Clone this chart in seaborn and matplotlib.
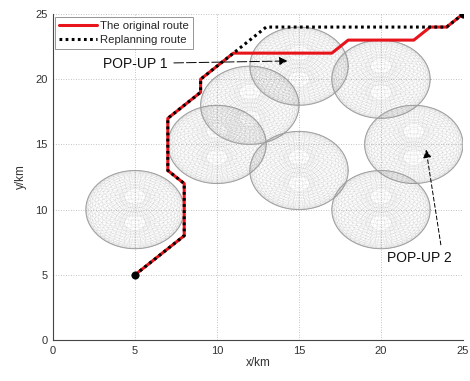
import numpy as np
import pandas as pd
import matplotlib
matplotlib.use("Agg")
import matplotlib.pyplot as plt
from matplotlib.collections import LineCollection
import seaborn as sns

# Threat spheres (centre x, centre y, radius in km)
threat_x = [5, 10, 12, 15, 15, 20, 22, 20]
threat_y = [10, 15, 18, 21, 13, 20, 15, 10]
threat_r = [3, 3, 3, 3, 3, 3, 3, 3]

# Original route waypoints
orig_x = [5, 8, 8, 7, 7, 9, 9, 11, 17, 18, 22, 23, 24, 25]
orig_y = [5, 8, 12, 13, 17, 19, 20, 22, 22, 23, 23, 24, 24, 25]

# Replanning route waypoints
replan_x = [5, 8, 8, 7, 7, 9, 9, 11, 13, 24, 25]
replan_y = [5, 8, 12, 13, 17, 19, 20, 22, 24, 24, 25]

# Start / goal points
end_x = [5, 25]
end_y = [5, 25]

xticks = [0, 5, 10, 15, 20, 25]
yticks = [0, 5, 10, 15, 20, 25]

sns.set_theme(style="white")
plt.rcParams["font.family"] = ["Liberation Sans", "DejaVu Sans"]

fig = plt.figure(figsize=(4.70, 3.81), dpi=100)
ax = fig.add_axes([0.1128, 0.1076, 0.8723, 0.8556])


def sphere_segments(cx, cy, r, n_mer=56, n_par=30, tilt=np.deg2rad(70)):
    """Wireframe of a sphere, orthographically projected with a tilt about x."""
    segs = []
    t = np.linspace(0, 2 * np.pi, 161)
    lat_cut = np.deg2rad(78)
    p = np.linspace(-lat_cut, lat_cut, 81)
    for th in np.linspace(0, 2 * np.pi, n_mer, endpoint=False):
        X = np.cos(p) * np.cos(th)
        Y = np.cos(p) * np.sin(th)
        Z = np.sin(p)
        sy = Z * np.cos(tilt) + Y * np.sin(tilt)
        segs.append(np.column_stack([cx + r * X, cy + r * sy]))
    for ph in np.linspace(-np.pi / 2, np.pi / 2, n_par + 1)[1:-1]:
        X = np.cos(ph) * np.cos(t)
        Y = np.cos(ph) * np.sin(t)
        Z = np.full_like(t, np.sin(ph))
        sy = Z * np.cos(tilt) + Y * np.sin(tilt)
        segs.append(np.column_stack([cx + r * X, cy + r * sy]))
    return segs


for cx, cy, r in zip(threat_x, threat_y, threat_r):
    lc = LineCollection(sphere_segments(cx, cy, r), colors="#8a8a8a",
                        linewidths=0.25, alpha=0.28, zorder=1)
    ax.add_collection(lc)
    outline = np.linspace(0, 2 * np.pi, 200)
    ax.plot(cx + r * np.cos(outline), cy + r * np.sin(outline),
            color="#a0a0a0", lw=0.7, zorder=1)

orig_df = pd.DataFrame({"x": orig_x, "y": orig_y})
replan_df = pd.DataFrame({"x": replan_x, "y": replan_y})

sns.lineplot(data=orig_df, x="x", y="y", sort=False, estimator=None,
             color="#e8141b", lw=2.2, ax=ax, zorder=3,
             label="The original route")
sns.lineplot(data=replan_df, x="x", y="y", sort=False, estimator=None,
             color="black", lw=2.2, ax=ax, zorder=4,
             linestyle=(0, (0.9, 1.1)), label="Replanning route")
sns.scatterplot(x=end_x, y=end_y, color="black", s=28, ax=ax, zorder=5,
                edgecolor="black", linewidth=0.5)

# annotations
ax.annotate("POP-UP 1", xy=(14.3, 21.4), xytext=(7.0, 21.2),
            fontsize=10, ha="right", va="center", color="#111111",
            arrowprops=dict(arrowstyle="-|>", color="black", lw=0.7,
                            linestyle=(0, (10, 3)), mutation_scale=12,
                            shrinkA=2, shrinkB=0))
ax.text(22.35, 6.3, "POP-UP 2", fontsize=10, ha="center", va="center",
        color="#111111")
ax.annotate("", xy=(22.75, 14.6), xytext=(23.65, 7.3),
            arrowprops=dict(arrowstyle="-|>", color="black", lw=0.7,
                            linestyle=(0, (4, 2.5)), mutation_scale=12,
                            shrinkA=0, shrinkB=0))

ax.set_xlim(0, 25)
ax.set_ylim(0, 25)
ax.set_xticks(xticks)
ax.set_yticks(yticks)
ax.set_xlabel("x/km", fontsize=8.5, color="#333333", labelpad=1)
ax.set_ylabel("y/km", fontsize=8.5, color="#333333", labelpad=6)
ax.tick_params(axis="both", direction="in", length=3, width=0.6,
               labelsize=8, colors="#333333", pad=4)
ax.grid(True, linestyle=(0, (1, 2)), color="#b0b0b0", lw=0.6)
ax.set_axisbelow(True)
for side in ["top", "right"]:
    ax.spines[side].set_visible(False)
for side in ["left", "bottom"]:
    ax.spines[side].set_color("#444444")
    ax.spines[side].set_linewidth(0.8)

leg = ax.legend(loc="upper left", bbox_to_anchor=(0.004, 0.99), fontsize=8.2,
                frameon=True, fancybox=False, handlelength=3.4,
                handletextpad=0.2, borderpad=0.35, labelspacing=0.35,
                borderaxespad=0)
leg.get_frame().set_edgecolor("#666666")
leg.get_frame().set_linewidth(0.6)
leg.get_frame().set_facecolor("white")

fig.savefig("out.png", dpi=100)
